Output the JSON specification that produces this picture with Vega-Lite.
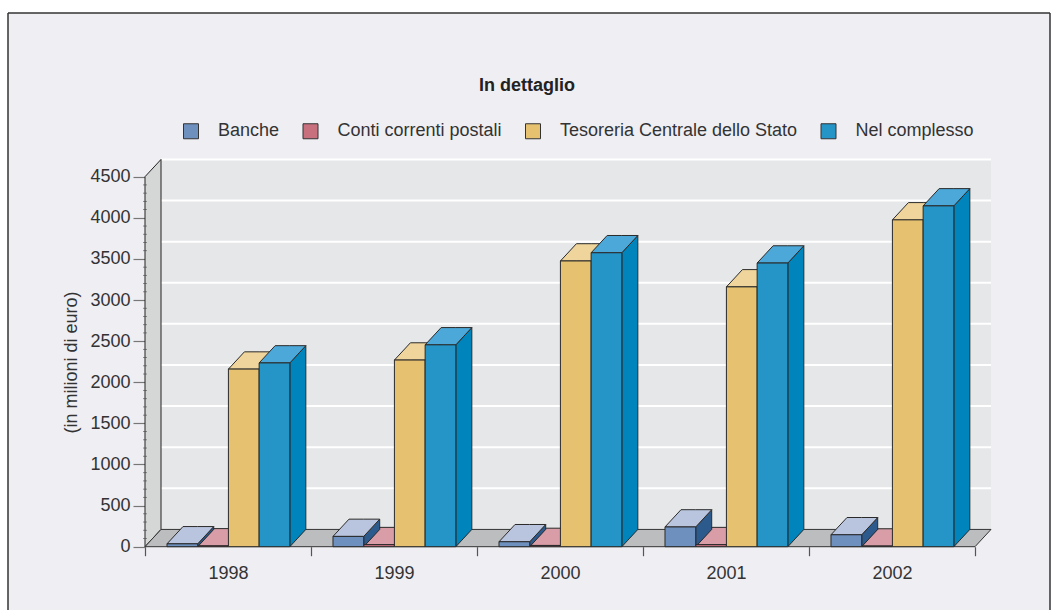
{
"$schema":"https://vega.github.io/schema/vega-lite/v6.json",
"width":1042,"height":597,
"autosize":{"type":"none"},
"padding":{"left":8,"top":13,"right":7,"bottom":0},
"background":"#ffffff",
"title":{"text":"In dettaglio","font":"Liberation Sans","fontSize":18,"fontWeight":"bold","color":"#222222","anchor":"middle","offset":-83,"dx":-2},
"config":{"view":{"fill":"#eeeef3","stroke":null},"font":"Liberation Sans"},
"datasets":{
"bars":[
{"year":2002,"series":"Conti correnti postali","value":8},
{"year":1998,"series":"Conti correnti postali","value":10},
{"year":2000,"series":"Conti correnti postali","value":15},
{"year":1999,"series":"Conti correnti postali","value":25},
{"year":2001,"series":"Conti correnti postali","value":25},
{"year":1998,"series":"Banche","value":35},
{"year":2000,"series":"Banche","value":60},
{"year":1999,"series":"Banche","value":125},
{"year":2002,"series":"Banche","value":145},
{"year":2001,"series":"Banche","value":240},
{"year":1998,"series":"Tesoreria Centrale dello Stato","value":2160},
{"year":1998,"series":"Nel complesso","value":2235},
{"year":1999,"series":"Tesoreria Centrale dello Stato","value":2270},
{"year":1999,"series":"Nel complesso","value":2455},
{"year":2001,"series":"Tesoreria Centrale dello Stato","value":3160},
{"year":2001,"series":"Nel complesso","value":3450},
{"year":2000,"series":"Tesoreria Centrale dello Stato","value":3475},
{"year":2000,"series":"Nel complesso","value":3575},
{"year":2002,"series":"Tesoreria Centrale dello Stato","value":3975},
{"year":2002,"series":"Nel complesso","value":4145}
]},
"layer":[
{"data":{"values":[{"u":0.0964,"u2":5.0964,"lo":210,"hi":4710}]},
 "mark":{"type":"rect","fill":"#e6e7e8"},
 "encoding":{
  "x":{"field":"u","type":"quantitative","scale":{"domain":[-0.8253,5.4518],"nice":false,"zero":false},
   "axis":{"values":[0,0.5,1,1.5,2,2.5,3,3.5,4,4.5,5],"title":null,"grid":false,"domain":false,"offset":-63.3,"tickSize":9,"tickColor":"#555555","tickWidth":1.2,
    "tickOpacity":{"condition":{"test":"datum.value%1==0","value":1},"value":0},
    "labelExpr":"datum.value%1==0?'':''+(1998+floor(datum.value))","labelOverlap":false,"labelFont":"Liberation Sans","labelFontSize":18,"labelColor":"#333333","labelPadding":9}},
  "x2":{"field":"u2"},
  "y":{"field":"lo","type":"quantitative","scale":{"domain":[-770,6491],"nice":false,"zero":false},
   "axis":{"values":[0,500,1000,1500,2000,2500,3000,3500,4000,4500],"format":"d","title":"(in milioni di euro)","grid":false,"domain":false,"offset":-137,"tickSize":12,"tickColor":"#777777","tickWidth":1.2,
    "labelFont":"Liberation Sans","labelFontSize":18,"labelColor":"#333333","labelPadding":3,
    "titleFont":"Liberation Sans","titleFontSize":18,"titleFontWeight":"normal","titleColor":"#333333","titleX":-65,"titleY":349}},
  "y2":{"field":"hi"}}},
{"data":{"values":[{"v":500},{"v":1000},{"v":1500},{"v":2000},{"v":2500},{"v":3000},{"v":3500},{"v":4000},{"v":4500}]},
 "transform":[{"calculate":"datum.v+210","as":"yv"},{"calculate":"0.0964","as":"a"},{"calculate":"5.0964","as":"b"}],
 "mark":{"type":"rule","color":"#ffffff","strokeWidth":2},
 "encoding":{
  "x":{"field":"a","type":"quantitative","axis":null,"scale":{"domain":[-0.8253,5.4518],"nice":false,"zero":false}},
  "x2":{"field":"b"},
  "y":{"field":"yv","type":"quantitative","axis":null,"scale":{"domain":[-770,6491],"nice":false,"zero":false}}}},
{"data":{"values":[{"u":0,"lo":0,"hi":4500},{"u":0.0964,"lo":210,"hi":4710}]},
 "mark":{"type":"area","fill":"#d5d6d6","stroke":"#222222","strokeWidth":1},
 "encoding":{
  "x":{"field":"u","type":"quantitative","axis":null,"scale":{"domain":[-0.8253,5.4518],"nice":false,"zero":false}},
  "y":{"field":"hi","type":"quantitative","axis":null,"stack":null,"scale":{"domain":[-770,6491],"nice":false,"zero":false}},
  "y2":{"field":"lo"}}},
{"data":{"values":[{"u":0,"lo":0,"hi":0},{"u":0.0964,"lo":0,"hi":210},{"u":5,"lo":0,"hi":210},{"u":5.0964,"lo":210,"hi":210}]},
 "mark":{"type":"area","fill":"#bcbdbf","stroke":"#333333","strokeWidth":1},
 "encoding":{
  "x":{"field":"u","type":"quantitative","axis":null,"scale":{"domain":[-0.8253,5.4518],"nice":false,"zero":false}},
  "y":{"field":"hi","type":"quantitative","axis":null,"stack":null,"scale":{"domain":[-770,6491],"nice":false,"zero":false}},
  "y2":{"field":"lo"}}},
{"data":{"values":[{"v":100},{"v":200},{"v":300},{"v":400},{"v":600},{"v":700},{"v":800},{"v":900},{"v":1100},{"v":1200},{"v":1300},{"v":1400},{"v":1600},{"v":1700},{"v":1800},{"v":1900},{"v":2100},{"v":2200},{"v":2300},{"v":2400},{"v":2600},{"v":2700},{"v":2800},{"v":2900},{"v":3100},{"v":3200},{"v":3300},{"v":3400},{"v":3600},{"v":3700},{"v":3800},{"v":3900},{"v":4100},{"v":4200},{"v":4300},{"v":4400}]},
 "mark":{"type":"tick","orient":"horizontal","size":4,"thickness":0.8,"color":"#444444"},
 "encoding":{
  "x":{"datum":0,"type":"quantitative","axis":null,"scale":{"domain":[-0.8253,5.4518],"nice":false,"zero":false}},
  "y":{"field":"v","type":"quantitative","axis":null,"scale":{"domain":[-770,6491],"nice":false,"zero":false}}}},
{"data":{"values":[{"f":-0.8253},{"f":5.4518}]},
 "mark":{"type":"rule","color":"#333333","strokeWidth":1.5},
 "encoding":{"x":{"field":"f","type":"quantitative","axis":null,"scale":{"domain":[-0.8253,5.4518],"nice":false,"zero":false}}}},
{"data":{"values":[{"f":6491}]},
 "mark":{"type":"rule","color":"#333333","strokeWidth":1.5},
 "encoding":{"y":{"field":"f","type":"quantitative","axis":null,"scale":{"domain":[-770,6491],"nice":false,"zero":false}}}},
{"data":{"name":"bars"},
 "transform":[
  {"calculate":"indexof(['Banche','Conti correnti postali','Tesoreria Centrale dello Stato','Nel complesso'],datum.series)","as":"si"},
  {"calculate":"datum.year-1998+0.1325+0.185*datum.si","as":"x0"},
  {"calculate":"[0,1,2,3,4,5]","as":"k"},
  {"flatten":["k"]},
  {"calculate":"datum.k<2?'side':'top'","as":"face"},
  {"calculate":"datum.series+' '+datum.face","as":"facekey"},
  {"calculate":"datum.year+' '+datum.facekey","as":"id"},
  {"calculate":"datum.x0+[0.185,0.2814,0,0.0964,0.185,0.2814][datum.k]","as":"xv"},
  {"calculate":"datum.value+[0,210,0,210,210,210][datum.k]","as":"hi"},
  {"calculate":"[0,210,datum.value,datum.value,datum.value,datum.value+210][datum.k]","as":"lo"}
 ],
 "mark":{"type":"area","stroke":"#2a2a2a","strokeWidth":1,"strokeJoin":"miter"},
 "encoding":{
  "x":{"field":"xv","type":"quantitative","axis":null,"scale":{"domain":[-0.8253,5.4518],"nice":false,"zero":false}},
  "y":{"field":"hi","type":"quantitative","axis":null,"stack":null,"scale":{"domain":[-770,6491],"nice":false,"zero":false}},
  "y2":{"field":"lo"},
  "detail":{"field":"id"},
  "color":{"field":"facekey","type":"nominal","legend":null,"scale":{
   "domain":["Banche side","Banche top","Conti correnti postali side","Conti correnti postali top","Tesoreria Centrale dello Stato side","Tesoreria Centrale dello Stato top","Nel complesso side","Nel complesso top"],
   "range":["#2d5a8c","#b9c5de","#a84a5e","#d99da7","#c9a24c","#efd59b","#0084bc","#4ba8d8"]}}}},
{"data":{"name":"bars"},
 "transform":[
  {"calculate":"indexof(['Banche','Conti correnti postali','Tesoreria Centrale dello Stato','Nel complesso'],datum.series)","as":"si"},
  {"calculate":"datum.year-1998+0.1325+0.185*datum.si","as":"x0"},
  {"calculate":"datum.x0+0.185","as":"x1"}
 ],
 "mark":{"type":"rect","stroke":"#2a2a2a","strokeWidth":1},
 "encoding":{
  "x":{"field":"x0","type":"quantitative","axis":null,"scale":{"domain":[-0.8253,5.4518],"nice":false,"zero":false}},
  "x2":{"field":"x1"},
  "y":{"field":"value","type":"quantitative","axis":null,"scale":{"domain":[-770,6491],"nice":false,"zero":false}},
  "y2":{"datum":0},
  "color":{"field":"series","type":"nominal","scale":{
   "domain":["Banche","Conti correnti postali","Tesoreria Centrale dello Stato","Nel complesso"],
   "range":["#6d90bf","#c9707f","#e6c270","#2595c8"]},
   "legend":{"title":null,"orient":"none","legendX":174,"legendY":109,"direction":"horizontal","columns":4,"symbolType":"square","symbolSize":225,"symbolStrokeColor":"#333333","symbolStrokeWidth":1,"labelFont":"Liberation Sans","labelFontSize":18,"labelColor":"#333333","labelOffset":18,"labelLimit":300,"columnPadding":20.5}}}}
],
"resolve":{"scale":{"color":"independent"},"axis":{"x":"independent","y":"independent"}}
}
